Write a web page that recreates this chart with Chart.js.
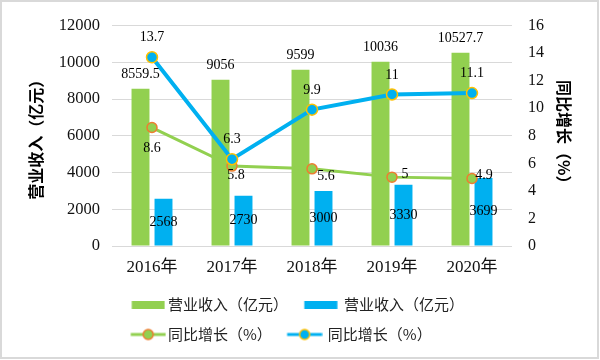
<!DOCTYPE html>
<html><head><meta charset="utf-8">
<script src="https://cdn.jsdelivr.net/npm/chart.js@4/dist/chart.umd.min.js"></script>
<style>html,body{margin:0;padding:0;background:#fff}#wrap{width:600px;height:360px}</style>
</head><body><div id="wrap"><canvas id="c" width="600" height="360"></canvas></div>
<script>
// ---- data ----
const categories = ['2016年', '2017年', '2018年', '2019年', '2020年'];
const revenueA = [8559.5, 9056, 9599, 10036, 10527.7];
const revenueB = [2568, 2730, 3000, 3330, 3699];
const growthA = [8.6, 5.8, 5.6, 5, 4.9];
const growthB = [13.7, 6.3, 9.9, 11, 11.1];
const seriesNames = ['营业收入（亿元）', '营业收入（亿元）', '同比增长（%）', '同比增长（%）'];
const leftTitle = '营业收入（亿元）';
const rightTitle = '同比增长（%）';
const leftAxisRange = [0, 12000, 2000];
const rightAxisRange = [0, 16, 2];

// ---- styles ----
const GREEN = '#92D050', BLUE = '#00B0F0', ORANGE = '#ED7D31', GOLD = '#FFC000';
const SERIF = '"Liberation Serif", "Times New Roman", "Noto Sans CJK SC", serif';
const CJK = '"Noto Sans CJK SC", sans-serif';
// label placement offsets (px) for growthA points
const growthALabelOffsets = [[0, 21], [4, 9], [14, 7], [13, -3], [12, -3]];
// legend swatch horizontal shifts (px), per legend column
const swatchShift = [4.75, 1.25, 4.75, 1.25];

function barSwatch(color, s) {
  const cw = 33, c = document.createElement('canvas'); c.width = Math.round(cw + 2 * s); c.height = 8;
  const g = c.getContext('2d'); g.fillStyle = color; g.fillRect(2 * s, 0, cw, 8); return c;
}
function lineSwatch(line, fill, border, s) {
  const cw = 35, c = document.createElement('canvas'); c.width = Math.round(cw + 2 * s); c.height = 14;
  const g = c.getContext('2d');
  g.strokeStyle = line; g.lineWidth = 3; g.beginPath(); g.moveTo(2 * s, 7); g.lineTo(2 * s + cw, 7); g.stroke();
  g.beginPath(); g.arc(2 * s + cw / 2, 7, 5, 0, Math.PI * 2); g.fillStyle = fill; g.fill();
  g.lineWidth = 1.5; g.strokeStyle = border; g.stroke();
  return c;
}
const swatches = [
  barSwatch(GREEN, swatchShift[0]), barSwatch(BLUE, swatchShift[1]),
  lineSwatch(GREEN, GREEN, ORANGE, swatchShift[2]), lineSwatch(BLUE, BLUE, GOLD, swatchShift[3])
];

const framePlugin = {
  id: 'frame',
  beforeDraw(chart) {
    const ctx = chart.ctx; ctx.save(); ctx.fillStyle = '#fff'; ctx.fillRect(0, 0, chart.width, chart.height); ctx.restore();
  },
  afterDraw(chart) {
    const ctx = chart.ctx; ctx.save(); ctx.strokeStyle = '#d9d9d9'; ctx.lineWidth = 2;
    ctx.strokeRect(1, 1, chart.width - 3, chart.height - 3); ctx.restore();
  }
};

const labelPlugin = {
  id: 'valueLabels',
  afterDatasetsDraw(chart) {
    const ctx = chart.ctx;
    ctx.save();
    ctx.font = '14px ' + SERIF;
    ctx.fillStyle = '#000';
    ctx.textAlign = 'center';
    ctx.textBaseline = 'middle';
    chart.data.datasets.forEach((ds, di) => {
      if (!chart.isDatasetVisible(di)) return;
      const meta = chart.getDatasetMeta(di);
      meta.data.forEach((el, i) => {
        const p = el.getProps(['x', 'y', 'base'], true);
        const text = String(ds.data[i]);
        let x = p.x, y = p.y;
        if (ds.labelMode === 'above') y = p.y - 14.5;
        else if (ds.labelMode === 'center') y = (p.y + p.base) / 2;
        else if (ds.labelMode === 'pointAbove') y = p.y - 19.5;
        else if (ds.labelMode === 'offsets') { x += growthALabelOffsets[i][0]; y += growthALabelOffsets[i][1]; }
        ctx.fillText(text, x, y);
      });
    });
    ctx.restore();
  }
};

const plainTick = (v) => String(v);

new Chart(document.getElementById('c'), {
  data: {
    labels: categories,
    datasets: [
      { type: 'bar', label: seriesNames[0], data: revenueA, backgroundColor: GREEN, yAxisID: 'y', order: 3,
        categoryPercentage: 0.575, barPercentage: 0.78, labelMode: 'above' },
      { type: 'bar', label: seriesNames[1], data: revenueB, backgroundColor: BLUE, yAxisID: 'y', order: 3,
        categoryPercentage: 0.575, barPercentage: 0.78, labelMode: 'center' },
      { type: 'line', label: seriesNames[2], data: growthA, borderColor: GREEN, borderWidth: 3,
        pointRadius: 5, pointBackgroundColor: GREEN, pointBorderColor: ORANGE, pointBorderWidth: 1.5,
        yAxisID: 'y1', order: 2, tension: 0, labelMode: 'offsets' },
      { type: 'line', label: seriesNames[3], data: growthB, borderColor: BLUE, borderWidth: 4,
        pointRadius: 5.5, pointBackgroundColor: BLUE, pointBorderColor: GOLD, pointBorderWidth: 1.5,
        yAxisID: 'y1', order: 1, tension: 0, labelMode: 'pointAbove' }
    ]
  },
  options: {
    responsive: false,
    animation: false,
    devicePixelRatio: 1,
    layout: { padding: { top: 19, left: 28, right: 28, bottom: 8 } },
    plugins: {
      tooltip: { enabled: false },
      legend: {
        position: 'bottom',
        fullSize: false,
        align: 'start',
        labels: {
          usePointStyle: true,
          pointStyleWidth: 33.5,
          padding: 15,
          color: '#222',
          font: { family: CJK, size: 15 },
          generateLabels(chart) {
            return chart.data.datasets.map((ds, i) => ({
              text: ds.label, pointStyle: swatches[i], fillStyle: 'transparent', strokeStyle: 'transparent',
              lineWidth: 0, hidden: !chart.isDatasetVisible(i), datasetIndex: i, fontColor: '#222'
            }));
          }
        }
      }
    },
    scales: {
      x: {
        grid: { display: false, drawTicks: false },
        border: { display: false },
        ticks: { color: '#111', font: { family: SERIF, size: 17 }, padding: 11 },
        afterFit(scale) { scale.height = 36; }
      },
      y: {
        position: 'left',
        min: leftAxisRange[0], max: leftAxisRange[1],
        ticks: { stepSize: leftAxisRange[2], color: '#111', font: { family: SERIF, size: 16.5 }, padding: 12, callback: plainTick },
        grid: { color: '#d9d9d9', lineWidth: 1, drawTicks: false },
        border: { display: false },
        title: { display: true, text: leftTitle, color: '#000', font: { family: CJK, size: 16, weight: 'bold', lineHeight: 1 }, padding: 0 },
        afterFit(scale) { scale.width = 84; }
      },
      y1: {
        position: 'right',
        min: rightAxisRange[0], max: rightAxisRange[1],
        ticks: { stepSize: rightAxisRange[2], color: '#111', font: { family: SERIF, size: 16 }, padding: 16, callback: plainTick },
        grid: { drawOnChartArea: false, drawTicks: false },
        border: { display: false },
        title: { display: true, text: rightTitle, color: '#000', font: { family: CJK, size: 16, weight: 'bold', lineHeight: 1 }, padding: 0 },
        afterFit(scale) { scale.width = 60; }
      }
    }
  },
  plugins: [framePlugin, labelPlugin]
});
</script>
</body></html>
